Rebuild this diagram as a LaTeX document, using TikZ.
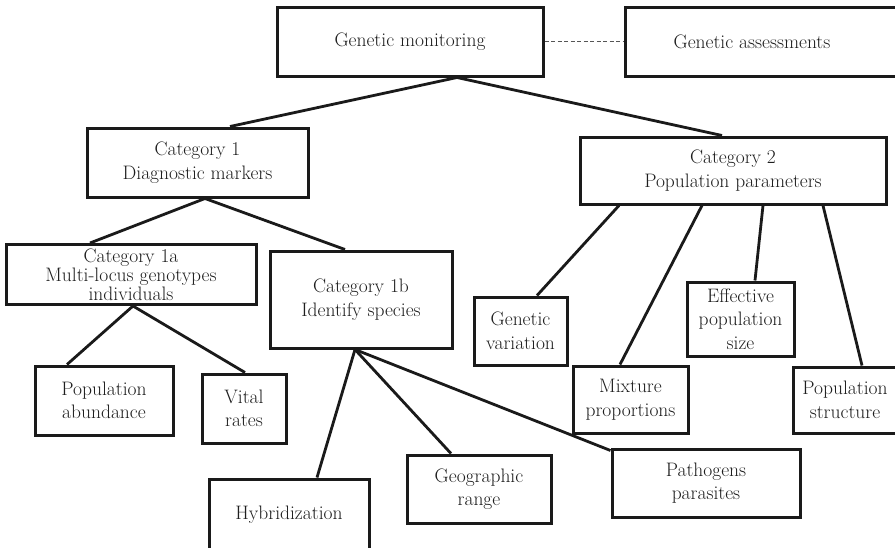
\documentclass[tikz,border=0pt]{standalone}
\usetikzlibrary{calc}
\definecolor{ink}{HTML}{1A1A1A}
\definecolor{txt}{HTML}{1E1E1E}
\definecolor{dashgray}{HTML}{555555}
\begin{document}
\begin{tikzpicture}[x=1pt,y=-1pt,
  box/.style={draw=ink, line width=3pt, fill=white, inner sep=0pt, align=center,
              text=txt, font=\fontsize{19.5}{23.5}\selectfont},
  tight/.style={font=\fontsize{19.5}{19}\selectfont},
  link/.style={draw=ink, line width=2.8pt},
  assoc/.style={draw=dashgray, line width=0.8pt, dash pattern=on 4pt off 2.5pt},
  lbl/.style={inner sep=0pt, align=center, text=txt, font=\fontsize{19.5}{23.5}\selectfont}]
\useasboundingbox (0,0) rectangle (895,547);

% top level
\node[box, minimum width=266pt, minimum height=69pt] (gm) at (410,41.5) {Genetic monitoring};
\node[box, minimum width=272pt, minimum height=69pt] (ga) at (761,41.5) {};
\node[lbl] (gatext) at (752,41.5) {Genetic assessments};

% categories
\node[box, minimum width=221pt, minimum height=69pt] (cat1) at (197.5,162.5) {Category 1\\Diagnostic markers};
\node[box, minimum width=306pt, minimum height=67pt] (cat2) at (733,170.5) {Category 2\\Population parameters};
\node[box, tight, minimum width=250pt, minimum height=60pt] (cat1a) at (131,274.5) {Category 1a\\Multi-locus genotypes\\individuals};
\node[box, minimum width=182pt, minimum height=97pt] (cat1b) at (361,299.5) {Category 1b\\Identify species};

% leaves under category 1a
\node[box, minimum width=138pt, minimum height=69pt] (abund) at (104,400.5) {Population\\abundance};
\node[box, minimum width=84pt, minimum height=69pt] (vital) at (244,408.5) {Vital\\rates};

% leaves under category 1b
\node[box, minimum width=160pt, minimum height=71pt] (hybrid) at (289,514.5) {Hybridization};
\node[box, minimum width=144pt, minimum height=68pt] (geo) at (479,489) {Geographic\\range};
\node[box, minimum width=188pt, minimum height=68pt] (path) at (706,483) {Pathogens\\parasites};

% leaves under category 2
\node[box, minimum width=93pt, minimum height=68pt] (genvar) at (520.5,331) {Genetic\\variation};
\node[box, minimum width=115pt, minimum height=67pt] (mix) at (630.5,399.5) {Mixture\\proportions};
\node[box, minimum width=107pt, minimum height=74pt] (eff) at (740.5,319) {Effective\\population\\size};
\node[box, minimum width=104pt, minimum height=66pt] (popstr) at (845,400) {Population\\structure};

% connectors
\draw[assoc] (gm.east) -- (ga.west);
\draw[link] ([xshift=47pt]gm.south) -- ([xshift=32.5pt]cat1.north);
\draw[link] ([xshift=47pt]gm.south) -- ([xshift=-11pt]cat2.north);

\draw[link] ([xshift=7.5pt]cat1.south) -- ([xshift=-41pt]cat1a.north);
\draw[link] ([xshift=7.5pt]cat1.south) -- ([xshift=-16pt]cat1b.north);

\draw[link] ([xshift=2pt]cat1a.south) -- ([xshift=-37pt]abund.north);
\draw[link] ([xshift=2pt]cat1a.south) -- ([xshift=1pt]vital.north);

\draw[link] ([xshift=-6pt]cat1b.south) -- ([xshift=28pt]hybrid.north);
\draw[link] ([xshift=-6pt]cat1b.south) -- ([xshift=-28pt]geo.north);
\draw[link] ([xshift=-6pt]cat1b.south) -- ([yshift=-3pt]path.north west);

\draw[link] ([xshift=-114pt]cat2.south) -- ([xshift=16.5pt]genvar.north);
\draw[link] ([xshift=-31pt]cat2.south) -- ([xshift=-10.5pt]mix.north);
\draw[link] ([xshift=30pt]cat2.south) -- ([xshift=14.5pt]eff.north);
\draw[link] ([xshift=90pt]cat2.south) -- ([xshift=17pt]popstr.north);
\end{tikzpicture}
\end{document}
